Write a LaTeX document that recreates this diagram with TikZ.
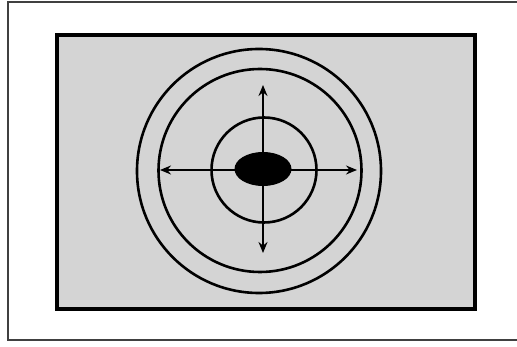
\documentclass[tikz,border=0pt]{standalone}
\usetikzlibrary{arrows.meta}

\begin{document}
\begin{tikzpicture}[
    x=1pt, y=-1pt,
    Frame/.style={draw=black!75, line width=2pt},
    Field/.style={fill=black!17, draw=black, line width=3.2pt},
    Ring/.style={draw=black, line width=2.6pt},
    Spot/.style={fill=black},
    ax/.style={{Stealth[length=11pt,width=9pt]}-{Stealth[length=11pt,width=9pt]}, line width=1.6pt},
]
\useasboundingbox (0,0) rectangle (517,347);
\clip (0,0) rectangle (517,347);
\fill[white] (0,0) rectangle (517,347);
\draw[Frame] (8,2) rectangle (540,340);
\draw[Field] (57,35) rectangle (475,309);
% target
\coordinate (c) at (260,171);
\draw[Ring] (259,171) circle[radius=122];
\draw[Ring] (260,170.5) circle[radius=101.5];
\draw[Ring] (264,170) circle[radius=52.5];
\fill[Spot] (263,169) ellipse[x radius=28.5, y radius=17];
\coordinate (top) at (263,85);
\coordinate (bot) at (263,253);
\coordinate (lft) at (160,170);
\coordinate (rgt) at (357,170);
\draw[ax] (top) -- (bot);
\draw[ax] (lft) -- (rgt);
\end{tikzpicture}
\end{document}
